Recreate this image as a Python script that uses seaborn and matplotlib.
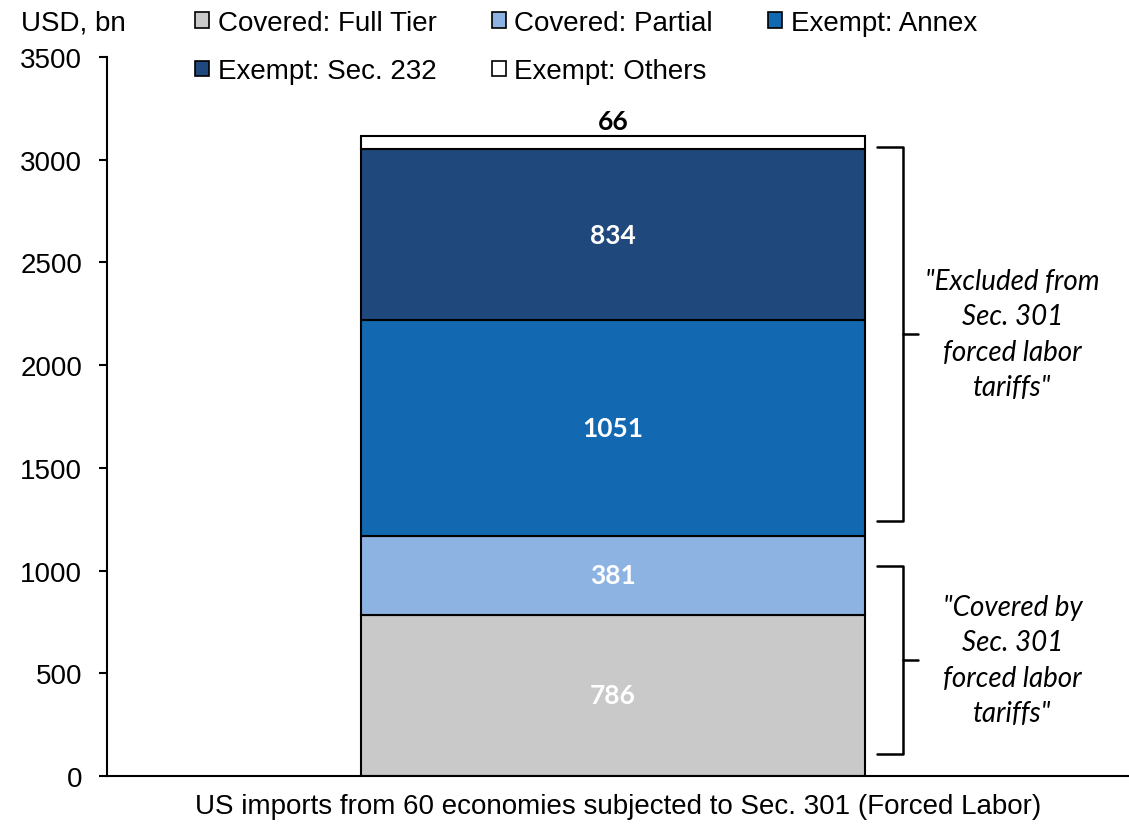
import matplotlib
matplotlib.use("Agg")
import matplotlib.pyplot as plt
import seaborn as sns
import pandas as pd

category = ["US imports from 60 economies subjected to Sec. 301 (Forced Labor)"]
segments = ["Covered: Full Tier", "Covered: Partial", "Exempt: Annex", "Exempt: Sec. 232", "Exempt: Others"]
values = [786, 381, 1051, 834, 66]
colors = ["#C9C9C9", "#8DB3E2", "#1369B1", "#1F497D", "#FFFFFF"]
label_colors = ["white", "white", "white", "white", "black"]
yticks = [0, 500, 1000, 1500, 2000, 2500, 3000, 3500]

sns.set_theme(style="white")
plt.rcParams['font.family'] = ['Liberation Sans', 'DejaVu Sans']
plt.rcParams['text.color'] = 'black'
plt.rcParams['axes.labelcolor'] = 'black'
plt.rcParams['xtick.color'] = 'black'
plt.rcParams['ytick.color'] = 'black'

fig = plt.figure(figsize=(11.29, 8.29), dpi=100)
ax = fig.add_axes([0.0948, 0.0627, 0.9052, 0.8673])

bottom = 0
for name, v, c, lc in zip(segments, values, colors, label_colors):
    df = pd.DataFrame({"x": category, "y": [v]})
    sns.barplot(data=df, x="x", y="y", bottom=bottom, color=c, edgecolor="black",
                linewidth=1.5, width=0.4956, label=name, ax=ax, saturation=1)
    if name == "Exempt: Others":
        ax.text(0, bottom + v + 12, f"{v}", ha="center", va="bottom", fontsize=19,
                fontweight="bold", color=lc, family=['Lato', 'DejaVu Sans'])
    else:
        ax.text(0, bottom + v / 2, f"{v}", ha="center", va="center", fontsize=19,
                fontweight="bold", color=lc, family=['Lato', 'DejaVu Sans'])
    bottom += v

ax.set_xlim(-0.4975, 0.5075)
ax.set_ylim(0, 3500)
ax.set_yticks(yticks)
ax.set_yticklabels([str(t) for t in yticks], fontsize=20)
ax.set_xticks([])
ax.set_xlabel(category[0], fontsize=20, labelpad=12)
ax.set_ylabel("")
for s in ["top", "right"]:
    ax.spines[s].set_visible(False)
for s in ["left", "bottom"]:
    ax.spines[s].set_color("black")
    ax.spines[s].set_linewidth(1.5)
ax.tick_params(axis="y", which="both", left=True, direction="out", length=6, width=1.5,
               color="black", labelcolor="black", pad=12)

fig.text(0.019, 0.972, "USD, bn", fontsize=20, ha="left", va="center")

handles, labels = ax.get_legend_handles_labels()
order = [0, 3, 1, 4, 2]
leg = ax.legend([handles[i] for i in order], [labels[i] for i in order],
                loc="upper left", bbox_to_anchor=(0.062, 1.100), ncol=3, frameon=False,
                fontsize=20, handlelength=0.5, handleheight=0.5, handletextpad=0.3,
                columnspacing=2.0, labelspacing=0.8)
for h in leg.legend_handles:
    h.set_edgecolor("black")
    h.set_linewidth(1.2)

# braces
def brace(y0, y1, ymid):
    x_end, x_v, x_tip = 0.753, 0.779, 0.794
    tr = ax.get_yaxis_transform()
    ax.plot([x_end, x_v, x_v, x_end], [y1, y1, y0, y0], transform=tr, color="black", lw=1.8, clip_on=False)
    ax.plot([x_v, x_tip], [ymid, ymid], transform=tr, color="black", lw=1.8, clip_on=False)

brace(1241, 3062, 2152)
brace(107, 1022, 565)

ax.text(0.886, 2152, "\"Excluded from\nSec. 301\nforced labor\ntariffs\"", transform=ax.get_yaxis_transform(),
        ha="center", va="center", fontsize=20, style="italic", family=['Lato', 'DejaVu Sans'], linespacing=1.45)
ax.text(0.886, 565, "\"Covered by\nSec. 301\nforced labor\ntariffs\"", transform=ax.get_yaxis_transform(),
        ha="center", va="center", fontsize=20, style="italic", family=['Lato', 'DejaVu Sans'], linespacing=1.45)

fig.savefig("out.png", dpi=100)
